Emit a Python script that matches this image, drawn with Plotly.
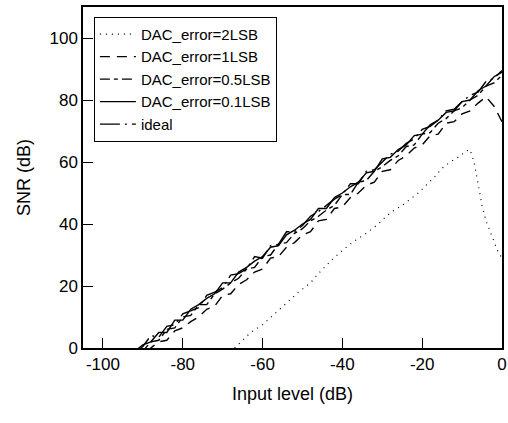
import plotly.graph_objects as go

x_main = list(range(-92, 1, 2))

snr_2lsb_x = [-67, -65, -63, -60, -57, -54, -51, -48, -46, -43, -40, -37, -34, -31, -29, -27,
              -25, -23, -21, -19, -17, -15, -13, -11, -9, -8, -7, -6, -5, -4, -3, -2, -1, 0]
snr_2lsb = [0, 2.5, 5, 7.5, 11, 14.5, 18, 21, 24, 28, 31.5, 34.5, 37, 40, 42.5, 44.5,
            46, 48, 50, 52.5, 55, 58, 60, 61.5, 63.5, 64, 60, 53, 46, 41, 37.5, 34, 31, 29]

snr_1lsb = [-5, -3, 0, 2, 2.5, 5.5, 6.5, 8.5, 10, 12.5, 13.5, 17, 17.5, 20.5, 22, 24.5, 25.5, 29,
            29.5, 32.5, 34, 36.5, 37.5, 41, 41.5, 45, 45.5, 48.5, 50, 52.5, 53.5, 57, 57.5, 60.5,
            62, 64.5, 65.5, 68.5, 69, 72.5, 73, 75.5, 76.5, 79, 81, 78, 73]

snr_05lsb = [-3, -1, 2, 2.5, 6, 6.5, 10, 10.5, 14, 14, 17.5, 19, 21, 22.5, 25.5, 26, 29.5, 30,
             33.5, 34, 37, 38.5, 41, 42.5, 44.5, 46, 49.5, 49.5, 53.5, 54, 57, 58.5, 60.5, 62,
             65, 65.5, 69, 69.5, 72.5, 74, 76.5, 77.5, 80, 81.5, 84.5, 85.5, 88]

snr_01lsb = [-1, 1, 2, 5, 5, 9, 9, 12.5, 14, 16, 17.5, 21, 21, 24.5, 26, 28, 29.5, 32.5, 33, 36.5,
             38, 40, 41.5, 45, 45, 48.5, 50, 52, 53.5, 56.5, 57, 61, 61.5, 64, 65.5, 68.5, 69,
             72, 73.5, 76, 76.5, 79.5, 80, 83, 84.5, 87.5, 89]

snr_ideal = [-1.5, 0.5, 4, 3.5, 7, 7.5, 11, 12, 13, 17, 18, 19.5, 23.5, 24, 25.5, 29.5, 29, 33,
             33.5, 37.5, 37.5, 39.5, 42.5, 44, 46, 48, 49.5, 53, 53, 57, 57.5, 60, 62.5, 63.5,
             66, 67.5, 70.5, 71.5, 73.5, 76.5, 77, 79.5, 81.5, 82.5, 86, 87, 89.5]

x_ticks = [-100, -80, -60, -40, -20, 0]
y_ticks = [0, 20, 40, 60, 80, 100]

FONT = "Liberation Sans, Arial, sans-serif"

fig = go.Figure()
fig.add_trace(go.Scatter(x=snr_2lsb_x, y=snr_2lsb, mode="lines", name="DAC_error=2LSB",
                         line=dict(color="black", width=1.2, dash="1px,5px")))
fig.add_trace(go.Scatter(x=x_main, y=snr_1lsb, mode="lines", name="DAC_error=1LSB",
                         line=dict(color="black", width=1.4, dash="10px,7px")))
fig.add_trace(go.Scatter(x=x_main, y=snr_05lsb, mode="lines", name="DAC_error=0.5LSB",
                         line=dict(color="black", width=1.4, dash="10px,4px,4px,4px")))
fig.add_trace(go.Scatter(x=x_main, y=snr_01lsb, mode="lines", name="DAC_error=0.1LSB",
                         line=dict(color="black", width=1.4)))
fig.add_trace(go.Scatter(x=x_main, y=snr_ideal, mode="lines", name="ideal",
                         line=dict(color="black", width=1.4, dash="20px,5px,2px,5px")))

axis_common = dict(showline=True, linecolor="black", linewidth=1.5, mirror=True,
                   ticks="inside", ticklen=10, tickwidth=1, tickcolor="black",
                   showgrid=False, zeroline=False,
                   tickfont=dict(family=FONT, size=17, color="black"))

fig.update_xaxes(range=[-105, 0], tickvals=x_ticks, ticktext=[str(v) for v in x_ticks],
                 title=dict(text="Input level (dB)", font=dict(family=FONT, size=18, color="black"),
                            standoff=14),
                 **axis_common)
fig.update_yaxes(range=[0, 110], tickvals=y_ticks, ticktext=[str(v) for v in y_ticks],
                 title=dict(text="SNR (dB)", font=dict(family=FONT, size=18, color="black"),
                            standoff=14),
                 **axis_common)

fig.update_layout(
    width=508, height=423,
    margin=dict(l=83, r=6, t=7, b=75, autoexpand=False),
    paper_bgcolor="white", plot_bgcolor="white",
    font=dict(family=FONT, color="black"),
    legend=dict(x=0.026, y=0.971, xanchor="left", yanchor="top",
                bgcolor="white", bordercolor="black", borderwidth=1,
                font=dict(family=FONT, size=15, color="black"),
                tracegroupgap=0, itemwidth=36),
    showlegend=True,
)

fig.write_html("out.html")
